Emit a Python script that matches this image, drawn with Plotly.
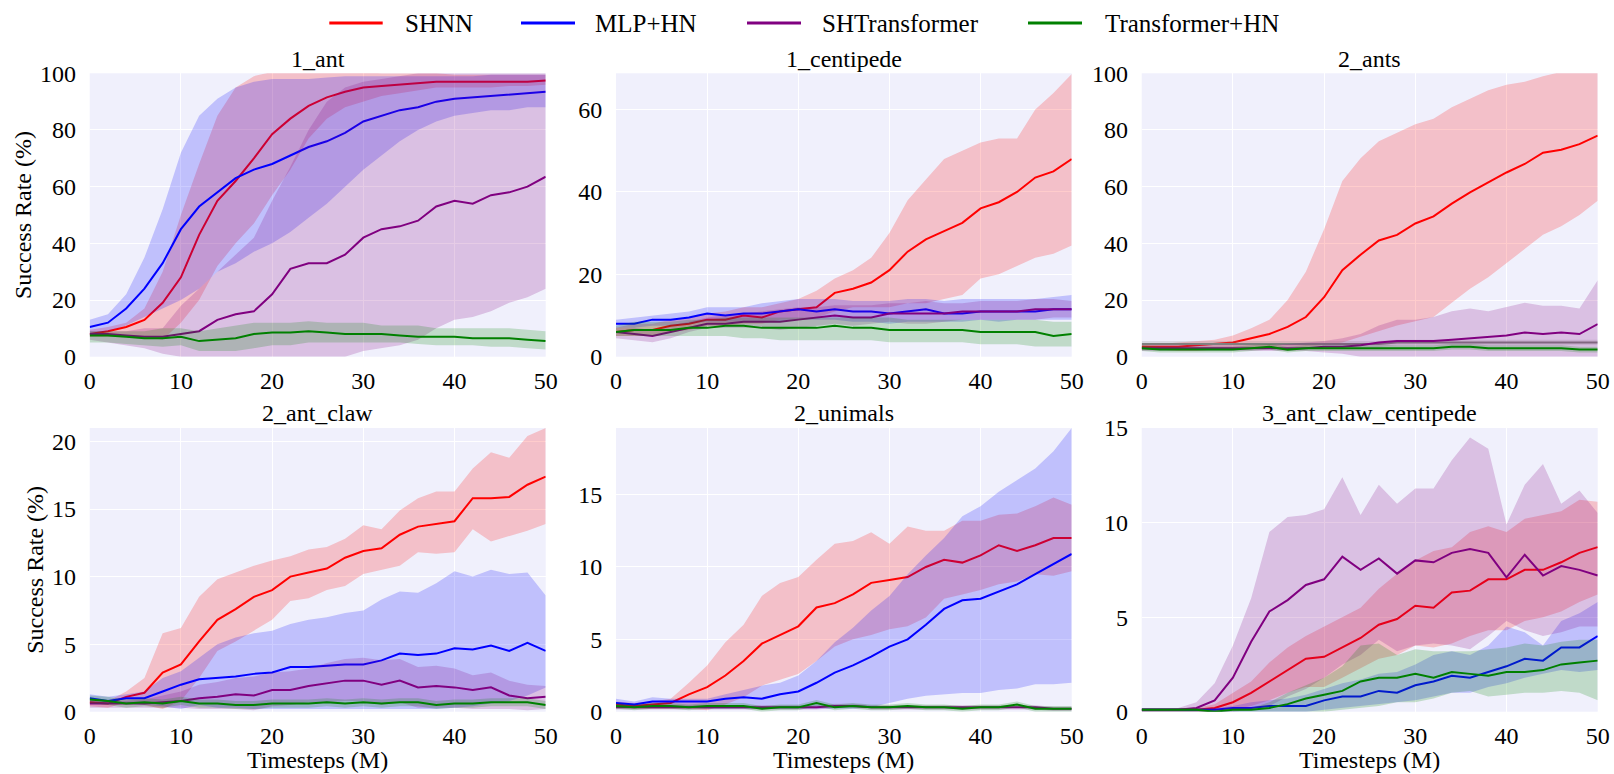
import plotly.graph_objects as go

W, H = 1614, 774
FONT = "Liberation Serif, Times New Roman, Times, serif"

# ---------------- data ----------------
timesteps = [0, 2, 4, 6, 8, 10, 12, 14, 16, 18, 20, 22, 24, 26, 28, 30, 32, 34, 36, 38, 40, 42, 44, 46, 48, 50]
x_ticks = [0, 10, 20, 30, 40, 50]

panel_titles = ["1_ant", "1_centipede", "2_ants", "2_ant_claw", "2_unimals", "3_ant_claw_centipede"]
method_names = ["SHNN", "MLP+HN", "SHTransformer", "Transformer+HN"]

# 1_ant
ant1_shnn_mean = [8, 9, 10.5, 13, 19, 28, 43, 55, 62, 70, 78.5, 84, 88.5, 91.5, 93.5, 95, 95.5, 96, 96.5, 97, 97, 97, 97, 97, 97, 97.5]
ant1_shnn_hi = [9.5, 10.5, 12, 17, 30, 50, 68, 85, 95, 99, 100.5, 100.5, 100.5, 100.5, 100.5, 100.5, 100, 100, 100, 100, 99.5, 99.5, 99.5, 99.5, 99.5, 99.5]
ant1_shnn_lo = [7, 7, 7, 7, 6, 12, 20, 32, 40, 47, 57, 66, 77, 84, 88, 90, 92, 93, 94, 95, 95, 95, 95, 95.5, 95.5, 96]
ant1_mlp_mean = [10.5, 12, 17, 24, 33, 45, 53, 58, 63, 66, 68, 71, 74, 76, 79, 83, 85, 87, 88, 90, 91, 91.5, 92, 92.5, 93, 93.5]
ant1_mlp_hi = [13, 15, 22, 35, 52, 72, 85, 91, 95, 97, 98, 98, 98, 98.5, 99, 99, 99, 99, 99, 99, 99, 99, 99.5, 99.5, 99.5, 99.5]
ant1_mlp_lo = [8, 9, 11, 14, 17, 20, 24, 30, 33, 37, 40, 44, 49, 54, 60, 66, 71, 76, 80, 83, 85, 86, 87, 87, 88, 88]
ant1_sht_mean = [8, 8, 7.5, 7, 7, 8, 9, 13, 15, 16, 22, 31, 33, 33, 36, 42, 45, 46, 48, 53, 55, 54, 57, 58, 60, 63.5]
ant1_sht_hi = [9, 9, 9, 10, 10, 18, 24, 30, 36, 42, 55, 67, 80, 90, 95, 97, 98, 99, 100, 100, 100, 100, 100, 100, 100, 100]
ant1_sht_lo = [6, 5, 4, 3, 1, 0, 0, 0, 0, 0, 0, 0, 0, 0, 0, 2, 3, 4, 6, 10, 13, 14, 16, 19, 21, 24]
ant1_tf_mean = [7.5, 7.5, 7, 6.5, 6.5, 7, 5.5, 6, 6.5, 8, 8.5, 8.5, 9, 8.5, 8, 8, 8, 7.5, 7, 7, 7, 6.5, 6.5, 6.5, 6, 5.5]
ant1_tf_hi = [9, 9, 9, 9, 10, 10, 9, 10, 11, 12, 12, 12, 12.5, 12, 12, 12, 11, 11, 11, 10, 10, 10, 10, 10, 9.5, 9]
ant1_tf_lo = [5, 5, 4.5, 4, 3.5, 4, 2, 2, 2, 3, 4, 4, 5, 5, 5, 5, 5, 5, 4.5, 4, 4, 4, 3.5, 3.5, 3, 2.5]

# 1_centipede
cen1_shnn_mean = [6, 6.5, 6.5, 7.5, 8, 9, 9, 10, 9.5, 11, 11.5, 12, 15.5, 16.5, 18, 21, 25.5, 28.5, 30.5, 32.5, 36, 37.5, 40, 43.5, 45, 48]
cen1_shnn_hi = [7, 8, 8, 9, 9.5, 10.5, 11, 12, 12, 13, 14, 16, 19, 21, 24, 30, 38, 43, 48, 50, 52, 53, 53, 60, 64, 68.6]
cen1_shnn_lo = [5, 5, 5, 6, 6.5, 7.5, 7.5, 8, 8, 9, 9, 9.5, 11, 12, 12, 12, 13, 13, 14, 15, 19, 20, 22, 24, 25, 27]
cen1_mlp_mean = [8, 8, 9, 9, 9.5, 10.5, 10, 10.5, 10.5, 11, 11.5, 11, 11.5, 11, 11, 10.5, 11, 11.5, 10.5, 10.5, 11, 11, 11, 11, 11.5, 11.5]
cen1_mlp_hi = [9, 9.5, 10, 10.5, 11, 12, 12, 12, 13, 13.5, 14, 14, 14, 13.5, 13.5, 13.5, 14, 14, 13.5, 14, 14, 14, 14, 14, 14.5, 15]
cen1_mlp_lo = [7, 7, 7.5, 7.5, 8, 8.5, 8.5, 8.5, 8.5, 8.5, 9, 9, 9, 8.5, 8.5, 8, 8.5, 8.5, 8.5, 8.5, 9, 8.5, 9, 9, 9, 9]
cen1_sht_mean = [6, 5.5, 5, 6, 7, 8, 8, 8.5, 8.5, 8.5, 9, 9.5, 10, 9.5, 9.5, 10.5, 10.5, 10.5, 10.5, 11, 11, 11, 11, 11.5, 11.5, 11.5]
cen1_sht_hi = [7, 7, 6.5, 7.5, 8.5, 9.5, 10, 10.5, 11, 11.5, 12, 12, 12.5, 12.5, 12.5, 13, 13, 13.5, 13, 13, 13.5, 13.5, 13.5, 14, 14, 13.5]
cen1_sht_lo = [4.5, 4, 3.5, 4.5, 6, 7, 7, 7, 7, 6.5, 7, 7.5, 8, 7.5, 8, 8.5, 8, 8, 8.5, 9, 9, 9, 9, 9, 9.5, 9.5]
cen1_tf_mean = [6, 6.5, 6.5, 6.5, 7, 7, 7.5, 7.5, 7, 7, 7, 7, 7.5, 7, 7, 6.5, 6.5, 6.5, 6.5, 6.5, 6, 6, 6, 6, 5, 5.5]
cen1_tf_hi = [7.5, 8.5, 8.5, 8.5, 9, 9, 9.5, 9.5, 9.5, 9.5, 9.5, 9.5, 9.5, 9.5, 9.5, 9.5, 9, 9, 9, 9, 9, 9, 9, 9, 8.5, 8.5]
cen1_tf_lo = [5, 5, 5, 5, 5, 5, 5, 4.5, 4.5, 4, 4, 4, 4, 4, 4, 3.5, 3.5, 3.5, 3.5, 3.5, 3, 3, 3, 2.5, 2.5, 2.5]

# 2_ants
ants2_shnn_mean = [3.5, 3.5, 3.5, 4, 4.5, 5, 6.5, 8, 10.5, 14, 21, 30.5, 36, 41, 43, 47, 49.5, 54, 58, 61.5, 65, 68, 72, 73, 75, 78]
ants2_shnn_hi = [4.5, 4.5, 5, 5.5, 6, 7.5, 10, 13, 20, 30, 45, 62, 70, 76, 79, 82, 84, 88, 91, 94, 96, 97, 99, 100.5, 100.5, 100.5]
ants2_shnn_lo = [2.5, 2.5, 2, 2, 2.5, 3, 3.5, 3.5, 3.5, 3.5, 4, 5, 7, 9, 11, 12.5, 14, 19, 24, 28, 33, 38, 43, 46, 50, 55]
ants2_mlp_mean = [4.5, 4.5, 4.5, 4.5, 4.5, 4.5, 4.5, 4.5, 4.5, 4.5, 4.5, 4.5, 4.5, 4.5, 5, 5, 5, 5, 5, 5, 5, 5, 5, 5, 5, 5]
ants2_mlp_hi = [5.5, 5.5, 5.5, 5.5, 5.5, 5.5, 5.5, 5.5, 5.5, 5.5, 5.5, 5.5, 5.5, 5.5, 6, 6, 6, 6, 6, 6, 6, 6, 6, 6, 6, 6]
ants2_mlp_lo = [3.5, 3.5, 3.5, 3.5, 3.5, 3.5, 3.5, 3.5, 3.5, 3.5, 3.5, 3.5, 3.5, 3.5, 4, 4, 4, 4, 4, 4, 4, 4, 4, 4, 4, 4]
ants2_sht_mean = [3, 3, 3, 3, 3, 3, 3, 3, 3, 3, 3.5, 3.5, 4, 5, 5.5, 5.5, 5.5, 6, 6.5, 7, 7.5, 8.5, 8, 8.5, 8, 11.5]
ants2_sht_hi = [4, 4, 4, 4, 4, 4, 4, 4, 4.5, 5, 5.5, 6.5, 8, 11, 13, 13, 14, 16, 17, 16, 17.5, 19, 18, 18, 17, 27]
ants2_sht_lo = [2, 2, 2, 2, 2, 2, 2, 2, 2, 2, 1.5, 1, 0, 0, 0, 0, 0, 0, 0, 0, 0, 0, 0, 0, 0, 0]
ants2_tf_mean = [3, 2.5, 2.5, 2.5, 2.5, 2.5, 3, 3.5, 2.5, 3, 3, 3, 3, 3, 3, 3, 3, 3.5, 3.5, 3, 3, 3, 3, 3, 2.5, 2.5]
ants2_tf_hi = [4, 3.5, 3.5, 3.5, 3.5, 3.5, 4, 4.5, 3.5, 4, 4, 4, 4, 4, 4, 4, 4, 4.5, 4.5, 4, 4, 4, 4, 4, 3.5, 3.5]
ants2_tf_lo = [2, 1.5, 1.5, 1.5, 1.5, 1.5, 2, 2.5, 1.5, 2, 2, 2, 2, 2, 2, 2, 2, 2.5, 2.5, 2, 2, 2, 2, 2, 1.5, 1.5]

# 2_ant_claw
claw2_shnn_mean = [0.7, 0.6, 1.1, 1.4, 2.9, 3.5, 5.2, 6.8, 7.6, 8.5, 9.0, 10.0, 10.3, 10.6, 11.4, 11.9, 12.1, 13.1, 13.7, 13.9, 14.1, 15.8, 15.8, 15.9, 16.8, 17.4]
claw2_shnn_hi = [1.0, 0.8, 1.5, 2.5, 5.8, 6.2, 8.5, 9.8, 10.3, 10.8, 11.2, 11.5, 12.0, 12.2, 12.8, 13.8, 13.5, 14.9, 15.8, 16.3, 16.3, 18.0, 19.2, 18.8, 20.4, 21.0]
claw2_shnn_lo = [0.4, 0.3, 0.7, 0.5, 0.2, 0.8, 2.5, 4.5, 5.2, 6.0, 6.8, 8.2, 8.4, 9.0, 9.3, 10.2, 10.5, 10.8, 11.8, 11.7, 11.8, 13.5, 12.6, 13.0, 13.4, 13.9]
claw2_mlp_mean = [1.0, 0.8, 1.0, 1.0, 1.5, 2.0, 2.4, 2.5, 2.6, 2.8, 2.9, 3.3, 3.3, 3.4, 3.5, 3.5, 3.8, 4.3, 4.2, 4.3, 4.7, 4.6, 4.9, 4.5, 5.1, 4.5]
claw2_mlp_hi = [1.3, 1.1, 1.3, 1.5, 2.5, 3.0, 4.0, 5.0, 5.5, 5.8, 6.0, 6.5, 6.8, 7.0, 7.3, 7.5, 8.3, 8.9, 8.8, 9.5, 10.4, 10.0, 10.5, 10.2, 10.3, 8.6]
claw2_mlp_lo = [0.7, 0.6, 0.6, 0.5, 0.4, 0.2, 0.5, 0.3, 0.3, 0.2, 0.2, 0.2, 0.2, 0.2, 0.2, 0.2, 0.2, 0.2, 0.2, 0.2, 0.3, 0.4, 0.6, 0.8, 1.2, 1.8]
claw2_sht_mean = [0.6, 0.6, 0.6, 0.6, 0.7, 0.8, 1.0, 1.1, 1.3, 1.2, 1.6, 1.6, 1.9, 2.1, 2.3, 2.3, 2.0, 2.3, 1.8, 1.9, 1.8, 1.6, 1.8, 1.2, 1.0, 1.1]
claw2_sht_hi = [0.9, 0.8, 0.8, 0.9, 1.2, 1.5, 2.0, 2.2, 2.5, 2.6, 2.9, 3.0, 3.2, 3.6, 3.9, 4.0, 3.8, 3.9, 3.3, 3.4, 3.2, 2.7, 2.9, 2.3, 2.0, 1.9]
claw2_sht_lo = [0.3, 0.3, 0.3, 0.3, 0.3, 0.3, 0.2, 0.2, 0.2, 0.1, 0.4, 0.5, 0.7, 0.7, 0.8, 0.8, 0.5, 0.7, 0.3, 0.3, 0.3, 0.2, 0.2, 0.2, 0.1, 0.2]
claw2_tf_mean = [0.9, 0.8, 0.6, 0.7, 0.6, 0.8, 0.6, 0.6, 0.5, 0.5, 0.6, 0.6, 0.6, 0.7, 0.6, 0.7, 0.6, 0.7, 0.7, 0.5, 0.6, 0.6, 0.7, 0.7, 0.7, 0.5]
claw2_tf_hi = [1.2, 1.1, 0.9, 1.0, 0.9, 1.1, 0.9, 0.9, 0.8, 0.8, 0.9, 0.9, 0.9, 1.0, 0.9, 1.0, 0.9, 1.0, 1.0, 0.8, 0.9, 0.9, 1.0, 1.0, 1.0, 0.8]
claw2_tf_lo = [0.6, 0.5, 0.3, 0.4, 0.3, 0.5, 0.3, 0.3, 0.2, 0.2, 0.3, 0.3, 0.3, 0.4, 0.3, 0.4, 0.3, 0.4, 0.4, 0.2, 0.3, 0.3, 0.4, 0.4, 0.4, 0.2]

# 2_unimals
uni2_shnn_mean = [0.5, 0.4, 0.5, 0.6, 1.2, 1.7, 2.5, 3.5, 4.7, 5.3, 5.9, 7.2, 7.5, 8.1, 8.9, 9.1, 9.3, 10.0, 10.5, 10.3, 10.8, 11.5, 11.1, 11.5, 12.0, 12.0]
uni2_shnn_hi = [0.7, 0.6, 0.7, 0.9, 2.0, 3.2, 4.8, 6.0, 8.0, 8.9, 9.3, 10.5, 11.6, 11.8, 12.4, 11.6, 12.8, 12.5, 12.5, 13.2, 13.2, 13.6, 13.7, 14.2, 14.8, 14.3]
uni2_shnn_lo = [0.3, 0.2, 0.2, 0.2, 0.2, 0.1, 0.5, 1.0, 1.8, 2.2, 2.6, 3.5, 4.5, 5.0, 5.3, 5.7, 5.9, 6.5, 7.8, 8.1, 8.4, 8.8, 9.0, 9.5, 9.4, 9.7]
uni2_mlp_mean = [0.6, 0.5, 0.7, 0.7, 0.7, 0.7, 0.9, 1.0, 0.9, 1.2, 1.4, 2.0, 2.7, 3.2, 3.8, 4.5, 5.0, 6.0, 7.1, 7.7, 7.8, 8.3, 8.8, 9.5, 10.2, 10.9]
uni2_mlp_hi = [0.9, 0.7, 1.0, 0.9, 0.9, 0.9, 1.2, 1.5, 1.8, 2.0, 2.5, 3.5, 4.8, 5.8, 7.0, 8.0, 9.5, 10.8, 12.0, 13.5, 14.2, 15.2, 16.0, 16.8, 18.0, 19.6]
uni2_mlp_lo = [0.3, 0.3, 0.3, 0.4, 0.3, 0.2, 0.2, 0.2, 0.2, 0.2, 0.2, 0.2, 0.2, 0.2, 0.3, 0.6, 0.9, 1.1, 1.2, 1.3, 1.3, 1.5, 1.6, 1.9, 1.9, 2.0]
uni2_sht_mean = [0.3, 0.3, 0.3, 0.3, 0.3, 0.3, 0.3, 0.3, 0.3, 0.3, 0.3, 0.3, 0.4, 0.4, 0.3, 0.3, 0.3, 0.3, 0.3, 0.3, 0.3, 0.3, 0.3, 0.3, 0.2, 0.2]
uni2_sht_hi = [0.45, 0.45, 0.45, 0.45, 0.45, 0.45, 0.45, 0.45, 0.45, 0.45, 0.45, 0.45, 0.55, 0.55, 0.45, 0.45, 0.45, 0.45, 0.45, 0.45, 0.45, 0.45, 0.45, 0.45, 0.35, 0.35]
uni2_sht_lo = [0.15, 0.15, 0.15, 0.15, 0.15, 0.15, 0.15, 0.15, 0.15, 0.15, 0.15, 0.15, 0.25, 0.25, 0.15, 0.15, 0.15, 0.15, 0.15, 0.15, 0.15, 0.15, 0.15, 0.15, 0.05, 0.05]
uni2_tf_mean = [0.4, 0.3, 0.4, 0.4, 0.3, 0.4, 0.4, 0.4, 0.2, 0.3, 0.3, 0.6, 0.3, 0.4, 0.3, 0.3, 0.4, 0.3, 0.3, 0.2, 0.3, 0.3, 0.5, 0.2, 0.2, 0.2]
uni2_tf_hi = [0.6, 0.5, 0.6, 0.6, 0.5, 0.6, 0.6, 0.6, 0.4, 0.5, 0.5, 0.8, 0.5, 0.6, 0.5, 0.5, 0.6, 0.5, 0.5, 0.4, 0.5, 0.5, 0.7, 0.4, 0.4, 0.4]
uni2_tf_lo = [0.2, 0.1, 0.2, 0.2, 0.1, 0.2, 0.2, 0.2, 0.0, 0.1, 0.1, 0.4, 0.1, 0.2, 0.1, 0.1, 0.2, 0.1, 0.1, 0.0, 0.1, 0.1, 0.3, 0.0, 0.0, 0.0]

# 3_ant_claw_centipede
acc3_shnn_mean = [0.1, 0.1, 0.1, 0.1, 0.2, 0.5, 1.0, 1.6, 2.2, 2.8, 2.9, 3.4, 3.9, 4.6, 4.9, 5.6, 5.5, 6.3, 6.4, 7.0, 7.0, 7.5, 7.5, 7.9, 8.4, 8.7]
acc3_shnn_hi = [0.1, 0.1, 0.2, 0.2, 0.4, 1.0, 1.6, 2.6, 3.4, 4.0, 4.5, 5.0, 5.5, 6.5, 7.3, 8.0, 8.5, 8.7, 9.5, 9.8, 9.5, 10.2, 10.4, 10.6, 11.2, 11.1]
acc3_shnn_lo = [0.0, 0.0, 0.0, 0.0, 0.0, 0.1, 0.3, 0.6, 1.0, 1.3, 1.3, 1.8, 2.3, 2.8, 3.0, 3.5, 3.4, 3.6, 4.0, 4.3, 4.3, 4.8, 5.0, 5.3, 5.8, 6.2]
acc3_mlp_mean = [0.1, 0.1, 0.1, 0.1, 0.1, 0.2, 0.2, 0.3, 0.3, 0.3, 0.6, 0.8, 0.8, 1.1, 1.0, 1.4, 1.6, 1.9, 1.8, 2.1, 2.4, 2.8, 2.7, 3.4, 3.4, 4.0]
acc3_mlp_hi = [0.2, 0.2, 0.2, 0.2, 0.2, 0.3, 0.5, 0.6, 0.7, 0.9, 1.2, 1.5, 1.7, 2.0, 2.1, 2.5, 3.0, 3.2, 3.0, 3.5, 4.5, 4.2, 3.5, 4.8, 5.2, 5.8]
acc3_mlp_lo = [0.0, 0.0, 0.0, 0.0, 0.0, 0.0, 0.0, 0.0, 0.0, 0.0, 0.1, 0.2, 0.3, 0.4, 0.5, 0.6, 0.8, 1.0, 1.0, 1.3, 1.5, 1.8, 2.0, 2.2, 2.1, 2.2]
acc3_sht_mean = [0.1, 0.1, 0.1, 0.2, 0.6, 1.8, 3.7, 5.3, 5.9, 6.7, 7.0, 8.2, 7.5, 8.1, 7.3, 8.0, 7.9, 8.4, 8.6, 8.4, 7.1, 8.3, 7.2, 7.7, 7.5, 7.2]
acc3_sht_hi = [0.2, 0.2, 0.2, 0.5, 1.5, 3.5, 6.0, 9.5, 10.3, 10.4, 10.7, 12.4, 10.4, 12.0, 11.0, 11.8, 11.8, 13.3, 14.5, 13.9, 9.9, 12.0, 13.1, 11.0, 11.7, 10.5]
acc3_sht_lo = [0.0, 0.0, 0.0, 0.0, 0.0, 0.0, 0.1, 0.3, 0.8, 1.2, 1.8, 2.5, 3.0, 3.8, 3.2, 3.5, 3.6, 3.5, 3.3, 4.0, 4.8, 4.3, 4.0, 4.2, 4.5, 4.5]
acc3_tf_mean = [0.1, 0.1, 0.1, 0.1, 0.0, 0.1, 0.1, 0.2, 0.4, 0.7, 0.9, 1.1, 1.6, 1.8, 1.8, 2.0, 1.8, 2.1, 2.0, 1.9, 2.1, 2.1, 2.2, 2.5, 2.6, 2.7]
acc3_tf_hi = [0.2, 0.2, 0.2, 0.2, 0.1, 0.2, 0.2, 0.5, 1.0, 1.4, 1.8, 2.4, 3.5, 3.6, 3.0, 3.3, 3.2, 3.2, 3.2, 3.3, 3.4, 3.6, 3.5, 3.7, 3.8, 3.8]
acc3_tf_lo = [0.0, 0.0, 0.0, 0.0, 0.0, 0.0, 0.0, 0.0, 0.0, 0.0, 0.0, 0.1, 0.2, 0.3, 0.5, 0.5, 0.7, 1.0, 1.1, 0.8, 0.9, 1.0, 1.0, 1.1, 1.0, 0.6]

y_ranges = [[0, 100], [0, 68.8], [0, 100], [0, 21], [0, 19.6], [0, 15]]
y_tick_sets = [[0, 20, 40, 60, 80, 100], [0, 20, 40, 60], [0, 20, 40, 60, 80, 100],
               [0, 5, 10, 15, 20], [0, 5, 10, 15], [0, 5, 10, 15]]

panels = [
    [(ant1_shnn_mean, ant1_shnn_lo, ant1_shnn_hi), (ant1_mlp_mean, ant1_mlp_lo, ant1_mlp_hi),
     (ant1_sht_mean, ant1_sht_lo, ant1_sht_hi), (ant1_tf_mean, ant1_tf_lo, ant1_tf_hi)],
    [(cen1_shnn_mean, cen1_shnn_lo, cen1_shnn_hi), (cen1_mlp_mean, cen1_mlp_lo, cen1_mlp_hi),
     (cen1_sht_mean, cen1_sht_lo, cen1_sht_hi), (cen1_tf_mean, cen1_tf_lo, cen1_tf_hi)],
    [(ants2_shnn_mean, ants2_shnn_lo, ants2_shnn_hi), (ants2_mlp_mean, ants2_mlp_lo, ants2_mlp_hi),
     (ants2_sht_mean, ants2_sht_lo, ants2_sht_hi), (ants2_tf_mean, ants2_tf_lo, ants2_tf_hi)],
    [(claw2_shnn_mean, claw2_shnn_lo, claw2_shnn_hi), (claw2_mlp_mean, claw2_mlp_lo, claw2_mlp_hi),
     (claw2_sht_mean, claw2_sht_lo, claw2_sht_hi), (claw2_tf_mean, claw2_tf_lo, claw2_tf_hi)],
    [(uni2_shnn_mean, uni2_shnn_lo, uni2_shnn_hi), (uni2_mlp_mean, uni2_mlp_lo, uni2_mlp_hi),
     (uni2_sht_mean, uni2_sht_lo, uni2_sht_hi), (uni2_tf_mean, uni2_tf_lo, uni2_tf_hi)],
    [(acc3_shnn_mean, acc3_shnn_lo, acc3_shnn_hi), (acc3_mlp_mean, acc3_mlp_lo, acc3_mlp_hi),
     (acc3_sht_mean, acc3_sht_lo, acc3_sht_hi), (acc3_tf_mean, acc3_tf_lo, acc3_tf_hi)],
]

# ---------------- style ----------------
line_colors = ["rgb(255,0,0)", "rgb(0,0,255)", "rgb(128,0,128)", "rgb(0,128,0)"]
fill_colors = ["rgba(255,0,0,0.2)", "rgba(0,0,255,0.2)", "rgba(128,0,128,0.2)", "rgba(0,128,0,0.2)"]
BG = "rgb(240,240,252)"


def txt(size=24):
    return dict(family=FONT, size=size, color="black")


# pixel geometry of the plotting areas
col_px = [(89.7, 545.7), (616.0, 1071.7), (1141.7, 1597.7)]
row_px = [(73.3, 356.7), (428.0, 711.7)]


def px_x(v):
    return v / W


def px_y(v):
    return 1 - v / H


fig = go.Figure()
layout_axes = {}

for p in range(6):
    r, c = divmod(p, 3)
    ax = p + 1
    xa = "x" if ax == 1 else f"x{ax}"
    ya = "y" if ax == 1 else f"y{ax}"
    for j, (mean, lo, hi) in enumerate(panels[p]):
        lc = line_colors[j]
        fc = fill_colors[j]
        if p == 2 and j == 1:
            lc = "rgb(128,128,128)"
            fc = "rgba(128,128,128,0.2)"
        fig.add_trace(go.Scatter(x=timesteps, y=hi, mode="lines", line=dict(width=0, color=lc),
                                 xaxis=xa, yaxis=ya, showlegend=False, hoverinfo="skip"))
        fig.add_trace(go.Scatter(x=timesteps, y=lo, mode="lines", line=dict(width=0, color=lc),
                                 fill="tonexty", fillcolor=fc,
                                 xaxis=xa, yaxis=ya, showlegend=False, hoverinfo="skip"))
        fig.add_trace(go.Scatter(x=timesteps, y=mean, mode="lines", line=dict(width=2, color=lc),
                                 name=method_names[j], xaxis=xa, yaxis=ya, showlegend=False))

    x0, x1 = col_px[c]
    y0, y1 = row_px[r]
    xkey = "xaxis" if ax == 1 else f"xaxis{ax}"
    ykey = "yaxis" if ax == 1 else f"yaxis{ax}"
    layout_axes[xkey] = dict(domain=[px_x(x0), px_x(x1)], anchor=ya,
                             range=[0, 50], tickvals=x_ticks, showgrid=True, gridcolor="white", gridwidth=1,
                             zeroline=False, showline=False, ticks="outside", ticklen=2,
                             tickcolor="rgba(0,0,0,0)", tickfont=txt(), automargin=False)
    layout_axes[ykey] = dict(domain=[px_y(y1), px_y(y0)], anchor=xa, range=y_ranges[p], tickvals=y_tick_sets[p],
                             showgrid=True, gridcolor="white", gridwidth=1, zeroline=False, showline=False,
                             ticks="outside", ticklen=8, tickcolor="rgba(0,0,0,0)", tickfont=txt(),
                             automargin=False)

annotations = []
# subplot titles
title_centers_y = [58.5, 413.0]
for p in range(6):
    r, c = divmod(p, 3)
    x0, x1 = col_px[c]
    annotations.append(dict(text=panel_titles[p], x=px_x((x0 + x1) / 2), y=px_y(title_centers_y[r]),
                            xref="paper", yref="paper", xanchor="center", yanchor="middle",
                            showarrow=False, font=txt()))

# axis titles
y_title_x = [23.0, 35.0]
for r in range(2):
    y0, y1 = row_px[r]
    annotations.append(dict(text="Success Rate (%)", x=px_x(y_title_x[r]), y=px_y((y0 + y1) / 2),
                            xref="paper", yref="paper", xanchor="center", yanchor="middle",
                            textangle=-90, showarrow=False, font=txt()))
for c in range(3):
    x0, x1 = col_px[c]
    annotations.append(dict(text="Timesteps (M)", x=px_x((x0 + x1) / 2), y=px_y(760.0),
                            xref="paper", yref="paper", xanchor="center", yanchor="middle",
                            showarrow=False, font=txt()))

# legend (drawn manually to match spacing)
legend_line_px = [(329.3, 382.7), (521.0, 575.0), (747.0, 801.0), (1028.0, 1082.0)]
legend_text_px = [402.7, 593.0, 820.0, 1103.0]
legend_y_px = 23.0
shapes = []
for j in range(4):
    a, b = legend_line_px[j]
    shapes.append(dict(type="line", xref="paper", yref="paper", x0=px_x(a), x1=px_x(b),
                       y0=px_y(legend_y_px), y1=px_y(legend_y_px),
                       line=dict(color=line_colors[j], width=3)))
    annotations.append(dict(text=method_names[j], x=px_x(legend_text_px[j]), y=px_y(legend_y_px),
                            xref="paper", yref="paper", xanchor="left", yanchor="middle",
                            showarrow=False, font=txt(25)))

fig.update_layout(
    width=W, height=H, autosize=False,
    margin=dict(l=0, r=0, t=0, b=0, autoexpand=False),
    paper_bgcolor="white", plot_bgcolor=BG,
    showlegend=False,
    annotations=annotations, shapes=shapes,
    font=txt(),
    **layout_axes,
)

# the page's default 8px body margin would offset the figure; remove it
fig.write_html("out.html", config={"displayModeBar": False},
               post_script="document.body.style.margin='0';document.body.style.overflow='hidden';")
